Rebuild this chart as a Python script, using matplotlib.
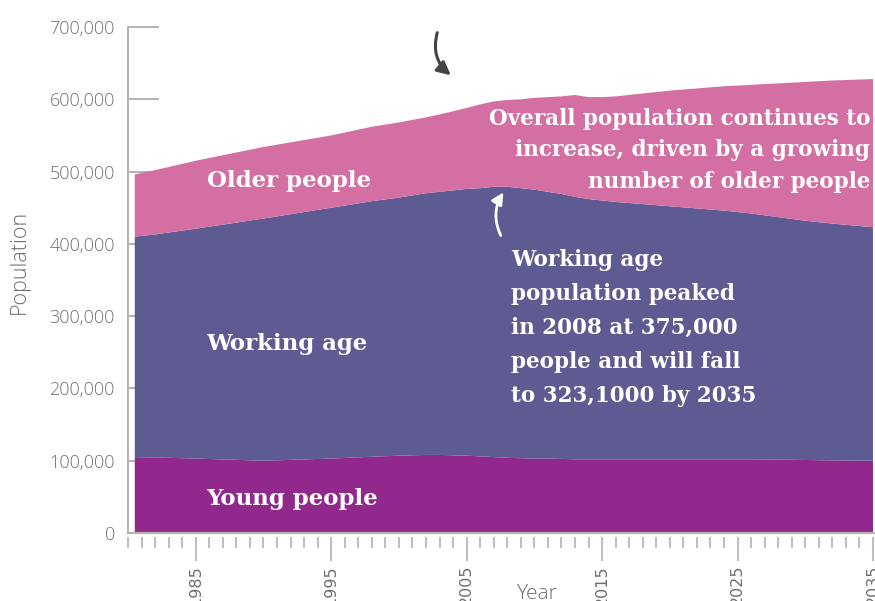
import matplotlib
matplotlib.use("Agg")
import matplotlib.pyplot as plt
from matplotlib.ticker import FuncFormatter, MultipleLocator, FixedLocator

# ---- data ----
years = [1980.5, 1982, 1985, 1990, 1995, 1998, 2000, 2002, 2003, 2005, 2006, 2007,
         2008, 2009, 2010, 2011, 2012, 2013, 2014, 2015, 2016, 2018, 2020, 2022,
         2024, 2026, 2028, 2030, 2032, 2035]
young = [105000, 104500, 103000, 100000, 103000, 105500, 107000, 108000, 108000,
         107000, 106000, 105000, 104000, 103500, 103000, 103000, 102500, 102000,
         102000, 102000, 102000, 102000, 102000, 102000, 102000, 102000, 101500,
         101000, 100500, 100000]
working = [305000, 308500, 318000, 335000, 347000, 353500, 357000, 362000, 364000,
           369000, 371000, 374000, 375000, 373500, 372000, 369000, 366500, 363000,
           360000, 358000, 356000, 353000, 350000, 347000, 344000, 340000, 335500,
           331000, 327500, 323000]
older = [86000, 89000, 94000, 99000, 100000, 103000, 104000, 105000, 107000,
         112000, 116000, 118000, 120000, 123000, 127000, 131000, 135000, 141000,
         141000, 143000, 146000, 153000, 160000, 166000, 172000, 178000, 185000,
         192000, 198000, 205000]

series_labels = ["Young people", "Working age", "Older people"]
colors = ["#91288C", "#5E5A92", "#D36FA2"]

note_overall = ["Overall population continues to",
                "increase, driven by a growing",
                "number of older people"]
note_working = ["Working age",
                "population peaked",
                "in 2008 at 375,000",
                "people and will fall",
                "to 323,1000 by 2035"]

y_ticks = [0, 100000, 200000, 300000, 400000, 500000, 600000, 700000]
x_major = [1985, 1995, 2005, 2015, 2025, 2035]

# ---- figure ----
W, H = 875, 601
fig = plt.figure(figsize=(W / 100, H / 100), dpi=100)
ax = fig.add_axes([128 / W, 1 - 533 / H, 747 / W, 506 / H])

ax.stackplot(years, young, working, older, colors=colors, linewidth=0, zorder=1)

ax.set_xlim(1980, 2035.15)
ax.set_ylim(0, 700000)
ax.set_axisbelow(True)

grey = "#b3b3b3"
txt_grey = "#6e6e6e"
tick_family = ["Open Sans", "DejaVu Sans"]

ax.yaxis.set_major_locator(FixedLocator(y_ticks))
ax.yaxis.set_major_formatter(FuncFormatter(lambda v, p: f"{int(v):,}"))
ax.tick_params(axis="y", direction="in", length=22, width=1.4, color=grey,
               pad=9.5, labelsize=13, labelcolor=txt_grey)

ax.xaxis.set_major_locator(FixedLocator(x_major))
ax.xaxis.set_minor_locator(MultipleLocator(1))
ax.tick_params(axis="x", which="major", direction="out", length=17, width=1.2,
               color=grey, pad=3, labelsize=11.5, labelcolor=txt_grey, labelrotation=90)
ax.tick_params(axis="x", which="minor", direction="out", length=8, width=1.2,
               color=grey)
for lab in ax.get_xticklabels() + ax.get_yticklabels():
    lab.set_fontfamily(tick_family)
    lab.set_fontweight("light")

for s in ["top", "right"]:
    ax.spines[s].set_visible(False)
ax.spines["left"].set_color(grey)
ax.spines["left"].set_linewidth(1.4)
ax.spines["bottom"].set_position(("outward", 3))
ax.spines["bottom"].set_visible(False)
ax.axhline(0, color=grey, lw=1.6, clip_on=False, zorder=3)

ax.set_ylabel("Population", fontsize=15.5, color=txt_grey, family=tick_family,
              weight="light")
ax.yaxis.set_label_coords(-0.132, 0.535)
ax.set_xlabel("Year", fontsize=15, color=txt_grey, family=tick_family,
              weight="light")
ax.xaxis.set_label_coords(0.548, -0.1)

# ---- series labels ----
serif = dict(family=["DejaVu Serif"], weight="bold", color="white")
label_pos = {"Older people": 478600, "Working age": 253000, "Young people": 38700}
for name in series_labels:
    ax.text(1985.8, label_pos[name], name, fontsize=16.5, va="baseline", ha="left",
            zorder=5, **serif)

# ---- notes ----
px_per_val = 506 / 700000
def ypx(p):
    return (533 - p) / px_per_val

for i, line in enumerate(note_overall):
    ax.text(2034.8, ypx(125 + i * 31.5), line, fontsize=15.5, ha="right",
            va="baseline", zorder=5, **serif)
for i, line in enumerate(note_working):
    ax.text(2008.25, ypx(266 + i * 34), line, fontsize=15.5, ha="left",
            va="baseline", zorder=5, **serif)

# ---- arrows ----
ax.annotate("", xy=(453 / W, 1 - 77 / H), xytext=(438 / W, 1 - 30 / H),
            xycoords="figure fraction", textcoords="figure fraction",
            arrowprops=dict(arrowstyle="-|>,head_length=0.8,head_width=0.4",
                            color="#444444", lw=2.2,
                            connectionstyle="arc3,rad=0.35"), zorder=6)
ax.annotate("", xy=(505 / W, 1 - 190 / H), xytext=(502 / W, 1 - 238 / H),
            xycoords="figure fraction", textcoords="figure fraction",
            arrowprops=dict(arrowstyle="-|>,head_length=0.7,head_width=0.35",
                            color="white", lw=2.0,
                            connectionstyle="arc3,rad=-0.3"), zorder=6)

fig.savefig("out.png", dpi=100)
